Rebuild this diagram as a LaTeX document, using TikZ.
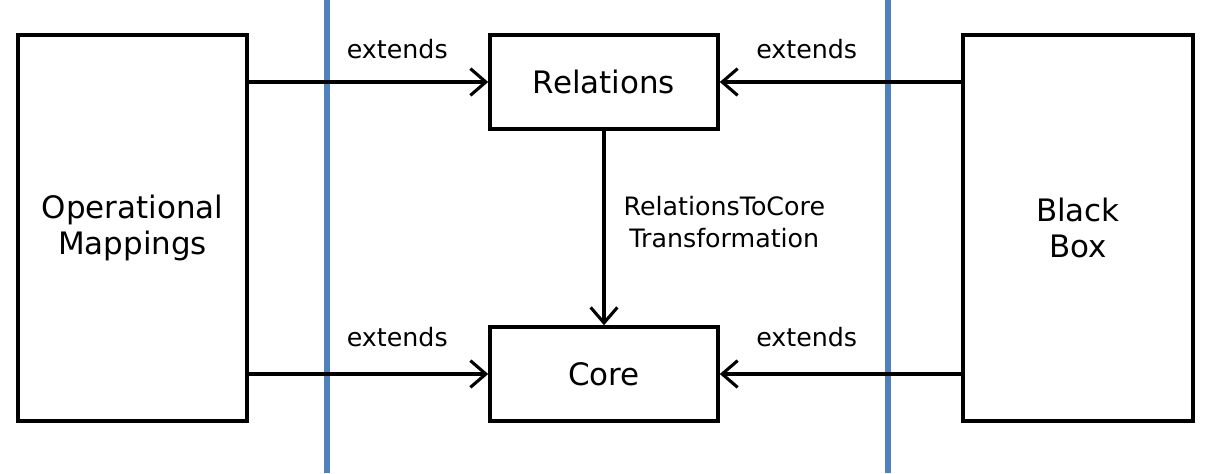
\documentclass[tikz,border=0pt]{standalone}
\usepackage{fontspec}
\setmainfont{DejaVu Sans}
\usetikzlibrary{shapes,arrows,arrows.meta,positioning}
\definecolor{divblue}{RGB}{79,129,189}

\tikzset{
    block/.style={draw=black, line width=2.5pt, fill=white, align=center, inner sep=0pt,
        font=\fontsize{22}{25.6}\selectfont},
    link/.style={line width=2.2pt, -{Straight Barb[length=11pt,width=19pt,line width=2.2pt]}},
    lbl/.style={font=\fontsize{18}{22.7}\selectfont, align=center, inner sep=0pt},
    divider/.style={draw=divblue, line width=3.8pt}
}

\begin{document}
\begin{tikzpicture}[x=0.025cm, y=-0.025cm]
    \useasboundingbox (0,0) rectangle (1221,473);

    % package boundaries
    \draw[divider] (327,0) -- (327,473);
    \draw[divider] (888,0) -- (888,473);

    \node[block, minimum width=5.725cm, minimum height=9.65cm] (opm) at (132.5,228) {Operational\\Mappings};
    \node[block, minimum width=5.75cm, minimum height=9.65cm] (bbox) at (1078,228) {Black\\Box};
    \node[block, minimum width=5.7cm, minimum height=2.35cm] (rel) at (604,82) {Relations};
    \node[block, minimum width=5.7cm, minimum height=2.35cm] (core) at (604,374) {Core};

    \draw[link] (opm.east |- rel.west) -- node[lbl, pos=0.62, yshift=0.82cm] (ext1) {extends} (rel.west);
    \draw[link] (bbox.west |- rel.east) -- node[lbl, pos=0.64, yshift=0.82cm] (ext2) {extends} (rel.east);
    \draw[link] (opm.east |- core.west) -- node[lbl, pos=0.62, yshift=0.92cm] (ext3) {extends} (core.west);
    \draw[link] (bbox.west |- core.east) -- node[lbl, pos=0.64, yshift=0.92cm] (ext4) {extends} (core.east);

    \draw[link] (rel.south) -- node[lbl, pos=0.47, right=0.45cm] (r2c) {RelationsToCore\\Transformation} (core.north);
\end{tikzpicture}
\end{document}
